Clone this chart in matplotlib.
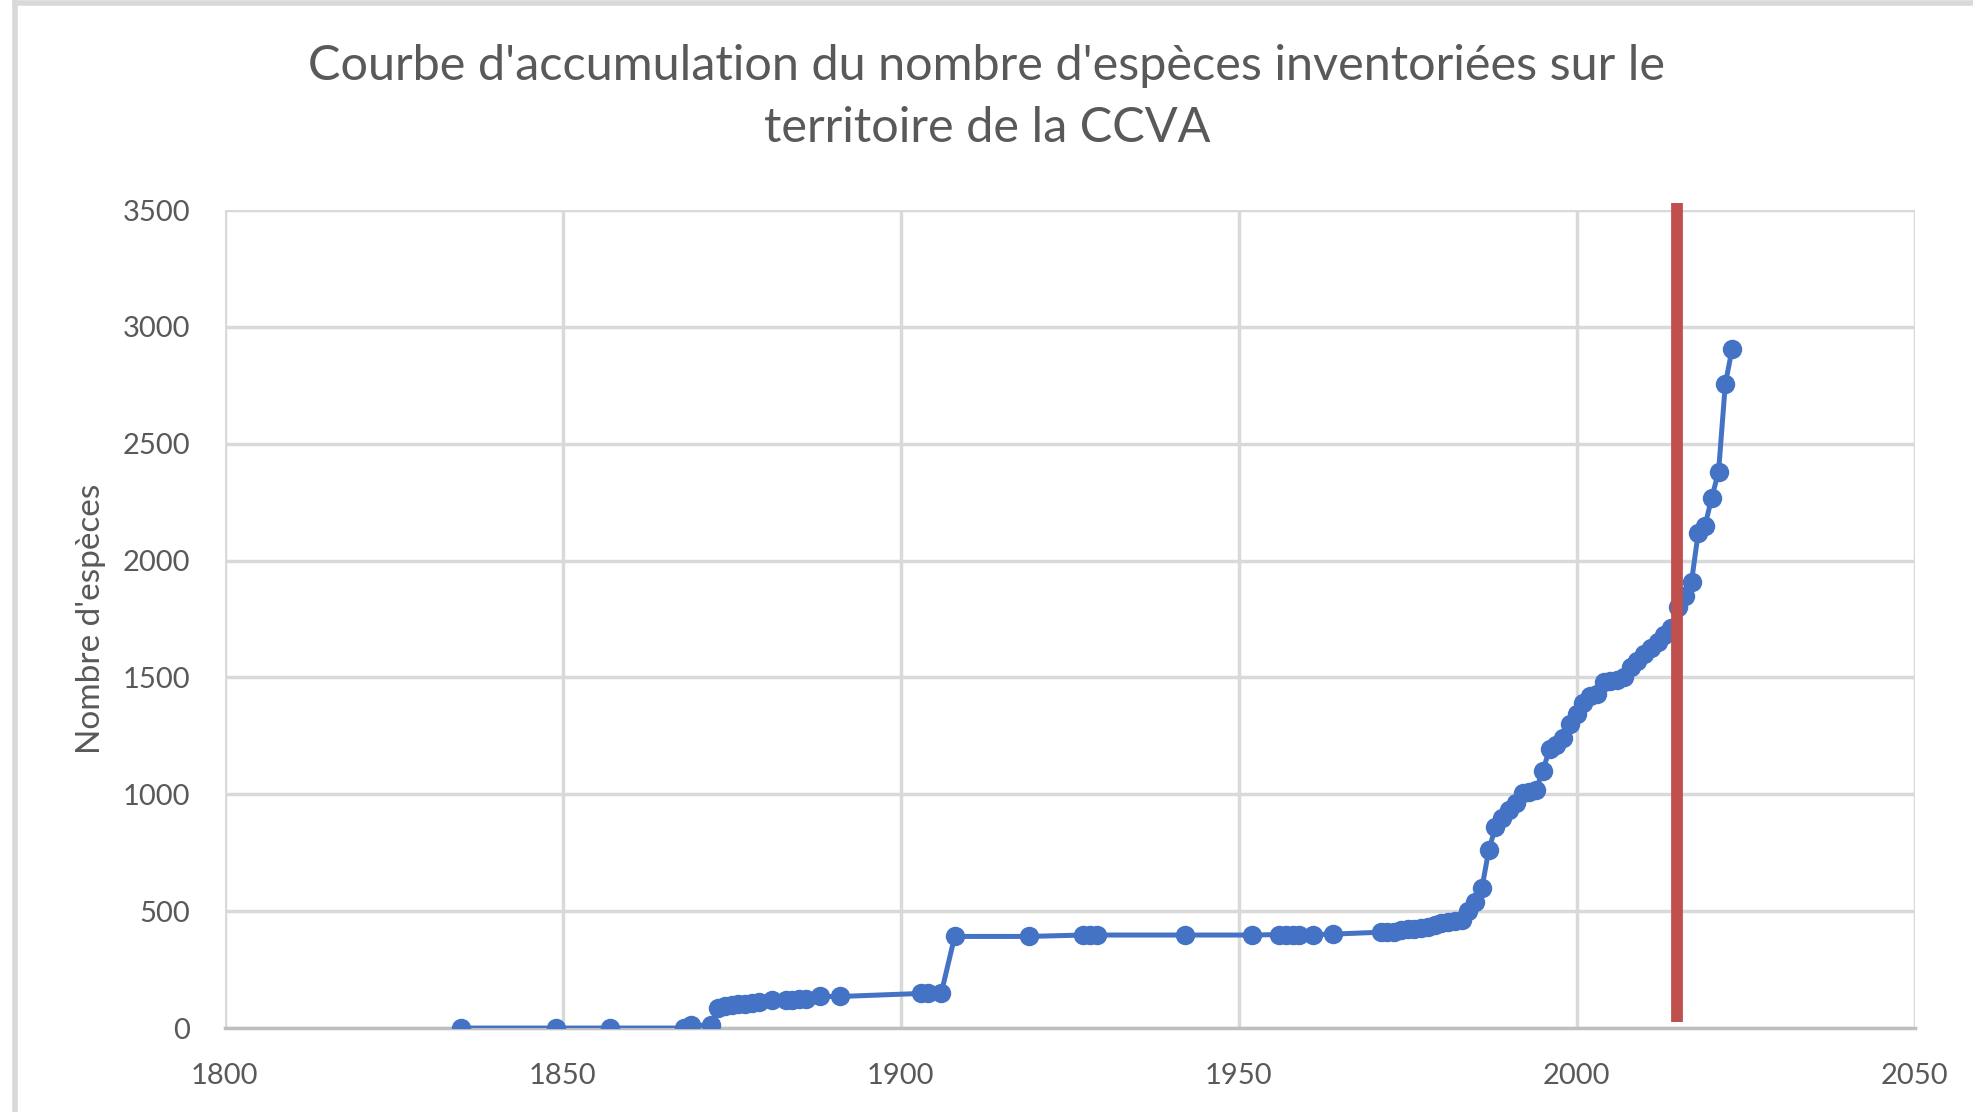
import matplotlib
matplotlib.use("Agg")
import matplotlib.pyplot as plt
from matplotlib.lines import Line2D

plt.rcParams['font.family'] = ['Lato', 'DejaVu Sans']

# année / nombre cumulé d'espèces
annees = [1835, 1849, 1857, 1868, 1869, 1872, 1873, 1874, 1875, 1876, 1877,
          1878, 1879, 1881, 1883, 1884, 1885, 1886, 1888, 1891, 1903, 1904,
          1906, 1908, 1919, 1927, 1928, 1929, 1942, 1952, 1956, 1957, 1958,
          1959, 1961, 1964, 1971, 1972, 1973, 1974, 1975, 1976, 1977, 1978,
          1979, 1980, 1981, 1982, 1983, 1984, 1985, 1986, 1987, 1988, 1989,
          1990, 1991, 1992, 1993, 1994, 1995, 1996, 1997, 1998, 1999, 2000,
          2001, 2002, 2003, 2004, 2005, 2006, 2007, 2008, 2009, 2010, 2011,
          2012, 2013, 2014, 2015, 2016, 2017, 2018, 2019, 2020, 2021, 2022,
          2023]
especes = [0, 0, 0, 0, 12, 12, 85, 95, 100, 102, 105,
           108, 112, 120, 122, 122, 123, 123, 135, 135, 148, 148,
           148, 392, 392, 398, 398, 398, 398, 398, 400, 400, 400,
           400, 400, 402, 410, 412, 413, 418, 422, 425, 428, 432,
           440, 448, 452, 458, 462, 500, 540, 600, 760, 860, 900,
           935, 965, 1005, 1010, 1020, 1100, 1195, 1210, 1240, 1300, 1345,
           1390, 1420, 1430, 1480, 1485, 1490, 1500, 1545, 1570, 1600, 1625,
           1650, 1680, 1710, 1800, 1850, 1910, 2120, 2150, 2270, 2380, 2755,
           2905]

annee_repere = 2014.8

gris = '#595959'
bleu = '#4472C4'
rouge = '#C0504D'

fig = plt.figure(figsize=(19.74, 11.12), dpi=100)
ax = fig.add_axes([0.1138, 0.0755, 0.8561, 0.7356])

ax.plot(annees, especes, color=bleu, linewidth=3.6, marker='o',
        markersize=14, markeredgewidth=0, zorder=3)
ax.plot([annee_repere, annee_repere], [25, 3530], color=rouge,
        linewidth=8.5, solid_capstyle='butt', clip_on=False, zorder=4)

ax.set_xlim(1800, 2050)
ax.set_ylim(0, 3500)
ax.set_xticks(range(1800, 2051, 50))
ax.set_yticks(range(0, 3501, 500))
ax.grid(True, color='#D9D9D9', linewidth=2.5)
ax.set_axisbelow(True)
for s in ['top', 'right', 'left']:
    ax.spines[s].set_visible(False)
ax.spines['bottom'].set_color('#BFBFBF')
ax.spines['bottom'].set_linewidth(2.5)
ax.tick_params(length=0, labelsize=21, colors=gris)
ax.tick_params(axis='y', pad=25)
ax.tick_params(axis='x', pad=25)

ax.set_ylabel("Nombre d'espèces", fontsize=24, color=gris, labelpad=12)
fig.text(0.5, 0.96,
         "Courbe d'accumulation du nombre d'espèces inventoriées sur le\n"
         "territoire de la CCVA", fontsize=35, color=gris, ha='center',
         va='top', linespacing=1.5)

# cadre du graphique
fig.add_artist(Line2D([0.0076, 0.0076], [0, 0.997], transform=fig.transFigure,
                      color='#D9D9D9', linewidth=4))
fig.add_artist(Line2D([0.0076, 1], [0.997, 0.997], transform=fig.transFigure,
                      color='#D9D9D9', linewidth=4))

fig.savefig('out.png', dpi=100)
